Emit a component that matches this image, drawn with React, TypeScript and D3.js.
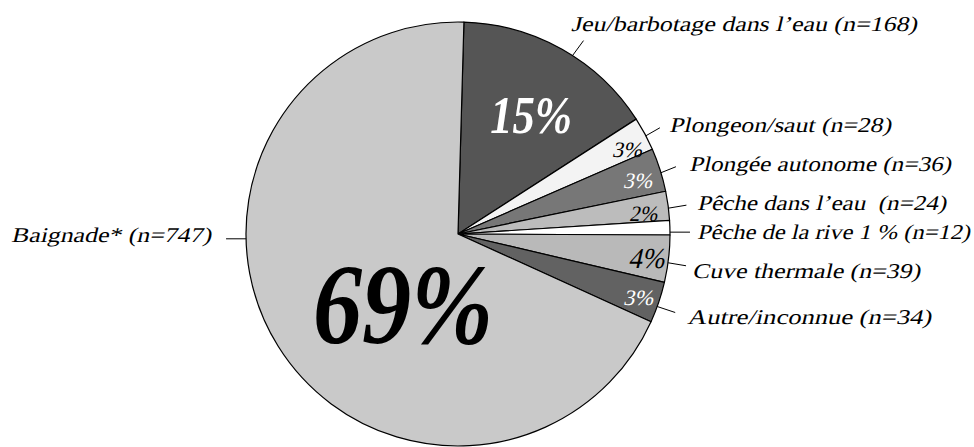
import React from "react";
import * as d3 from "d3";

// ---- data ----
const categories = [
  "Jeu/barbotage dans l’eau",
  "Plongeon/saut",
  "Plongée autonome",
  "Pêche dans l’eau",
  "Pêche de la rive",
  "Cuve thermale",
  "Autre/inconnue",
  "Baignade*",
];
const counts = [168, 28, 36, 24, 12, 39, 34, 747];
const outerLabels = [
  "Jeu/barbotage dans l’eau (n=168)",
  "Plongeon/saut (n=28)",
  "Plongée autonome (n=36)",
  "Pêche dans l’eau\u00a0\u00a0(n=24)",
  "Pêche de la rive 1 % (n=12)",
  "Cuve thermale (n=39)",
  "Autre/inconnue (n=34)",
  "Baignade* (n=747)",
];
const showInnerPct = [true, true, true, true, false, true, true, true];

// ---- styles / layout ----
const W = 974;
const H = 447;
const CX = 458;
const CY = 234;
const R = 212;
const START_DEG = 1.6;
const SKEW = -13;
const fills = ["#555555", "#f3f3f3", "#777777", "#bcbcbc", "#ffffff", "#b9b9b9", "#626262", "#c9c9c9"];
const FONT = "Liberation Serif";

// leader: angle on rim (deg), offset of end point; label: x, baseline, width
const leaderLayout = [
  { a: 32.7, dx: 11, dy: -15 },
  { a: 62.4, dx: 14, dy: -8 },
  { a: 73.2, dx: 15, dy: -6 },
  { a: 83.0, dx: 18, dy: -3 },
  { a: 89.5, dx: 20, dy: 0 },
  { a: 97.8, dx: 18, dy: 3 },
  { a: 110.0, dx: 18, dy: 6 },
  { a: 268.7, dx: -20, dy: 0 },
];
const labelLayout = [
  { x: 571, y: 31, w: 346 },
  { x: 669, y: 132, w: 222 },
  { x: 689, y: 171, w: 262 },
  { x: 697, y: 210, w: 249 },
  { x: 697, y: 239, w: 273 },
  { x: 692, y: 278, w: 228 },
  { x: 687, y: 324, w: 244 },
  { x: 11, y: 242, w: 200 },
];
const pctLayout = [
  { a: 31.5, r: 140, size: 53, bold: true, fill: "#ffffff", w: 82 },
  { a: 63.3, r: 189, size: 22, bold: false, fill: "#000000", w: 30 },
  { a: 73.5, r: 187, size: 22, bold: false, fill: "#ffffff", w: 29 },
  { a: 83.8, r: 186, size: 22, bold: false, fill: "#000000", w: 28 },
  null,
  { a: 97.3, r: 189.5, size: 29, bold: false, fill: "#000000", w: 36 },
  { a: 109.3, r: 190.7, size: 22, bold: false, fill: "#ffffff", w: 30 },
  { a: 218.2, r: 89, size: 114, bold: true, fill: "#000000", w: 180 },
];

const rad = (deg: number) => (deg * Math.PI) / 180;
const polar = (deg: number, r: number): [number, number] => [
  CX + r * Math.sin(rad(deg)),
  CY - r * Math.cos(rad(deg)),
];

export default function App() {
  const total = d3.sum(counts);
  const pie = d3
    .pie<number>()
    .sort(null)
    .value((d) => d)
    .startAngle(rad(START_DEG))
    .endAngle(rad(START_DEG) + 2 * Math.PI);
  const arcs = pie(counts);
  const arc = d3.arc<d3.PieArcDatum<number>>().innerRadius(0).outerRadius(R);

  return (
    <svg
      width={W}
      height={H}
      viewBox={`0 0 ${W} ${H}`}
      style={{ position: "absolute", left: 0, top: 0, background: "#ffffff" }}
    >
      <rect x={0} y={0} width={W} height={H} fill="#ffffff" />
      <g transform={`translate(${CX},${CY})`}>
        {arcs.map((a, i) => (
          <path
            key={categories[i]}
            d={arc(a) || ""}
            fill={fills[i]}
            stroke="#000000"
            strokeWidth={1.2}
            strokeLinejoin="round"
          />
        ))}
      </g>
      {leaderLayout.map((l, i) => {
        const [x1, y1] = polar(l.a, R);
        return (
          <line
            key={"ld" + i}
            x1={x1}
            y1={y1}
            x2={x1 + l.dx}
            y2={y1 + l.dy}
            stroke="#000000"
            strokeWidth={1}
          />
        );
      })}
      {outerLabels.map((t, i) => (
        <g key={"lb" + i} transform={`translate(${labelLayout[i].x},${labelLayout[i].y}) skewX(${SKEW})`}>
          <text
            x={0}
            y={0}
            style={{ fontFamily: FONT, fontStyle: "normal", fontSize: "21px" }}
            fill="#000000"
            textLength={labelLayout[i].w}
            lengthAdjust="spacingAndGlyphs"
          >
            {t}
          </text>
        </g>
      ))}
      {arcs.map((a, i) => {
        const p = pctLayout[i];
        if (!showInnerPct[i] || !p) return null;
        const [x, y] = polar(p.a, p.r);
        const pct = Math.round((a.value / total) * 100);
        const by = y + p.size * 0.34;
        if (p.bold) {
          return (
            <text
              key={"pc" + i}
              x={x}
              y={by}
              textAnchor="middle"
              style={{ fontFamily: FONT, fontStyle: "italic", fontWeight: 700, fontSize: p.size + "px" }}
              fill={p.fill}
              textLength={p.w}
              lengthAdjust="spacingAndGlyphs"
            >
              {pct + "%"}
            </text>
          );
        }
        return (
          <g key={"pc" + i} transform={`translate(${x},${by}) skewX(${SKEW})`}>
            <text
              x={0}
              y={0}
              textAnchor="middle"
              style={{ fontFamily: FONT, fontStyle: "normal", fontWeight: 400, fontSize: p.size + "px" }}
              fill={p.fill}
              textLength={p.w}
              lengthAdjust="spacingAndGlyphs"
            >
              {pct + "%"}
            </text>
          </g>
        );
      })}
    </svg>
  );
}
